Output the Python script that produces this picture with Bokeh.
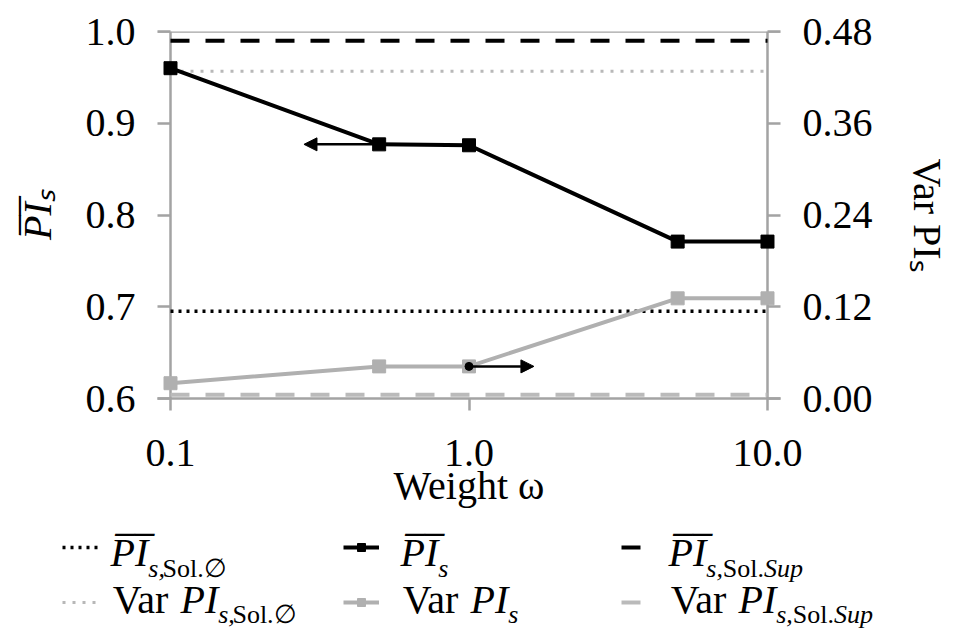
import math
from bokeh.plotting import figure
from bokeh.layouts import column, row
from bokeh.models import (Range1d, LinearAxis, FixedTicker, PrintfTickFormatter, Span, Label,
                          Arrow, NormalHead, Legend, LegendItem, ColumnDataSource)
from bokeh.embed import file_html
from bokeh.resources import INLINE

# ---------------- data ----------------
weights = [0.1, 0.5, 1.0, 5.0, 10.0]
pi_mean = [0.960, 0.877, 0.876, 0.771, 0.771]          # left axis
pi_var = [0.020, 0.042, 0.042, 0.131, 0.131]           # right axis
pi_mean_sol_empty = 0.695
pi_mean_sol_sup = 0.990
pi_var_sol_empty = 0.428
pi_var_sol_sup = 0.005
left_ticks = [0.6, 0.7, 0.8, 0.9, 1.0]
right_ticks = [0.0, 0.12, 0.24, 0.36, 0.48]
x_ticks = [0.1, 1.0, 10.0]
arrow_starts = [0.5, 1.0]     # weight where each axis-hint arrow starts
arrow_ends = [0.28, 1.65]     # weight where each arrow points to

# ---------------- layout constants (canvas px) ----------------
W, H = 961, 632
MAIN_H = 512
FL, FR, FT, FB = 157, 780, 31, 398   # frame edges
PAD = 1.1055                         # log-range padding so axis lines sit inside frame
FONT = "Liberation Serif"
AX = "#a3a3a3"
INK = "#000000"
GRAY = "#b0b0b0"

STY = dict(
    mean_empty=dict(line_color=INK, line_width=3.5, line_dash="3 5"),
    mean_sup=dict(line_color=INK, line_width=4, line_dash="19 16"),
    var_empty=dict(line_color="#b8b8b8", line_width=3, line_dash="3 7"),
    var_sup=dict(line_color="#bababa", line_width=4, line_dash="19 16"),
    var_line=dict(line_color=GRAY, line_width=4),
    var_pts=dict(marker="square", size=13, fill_color=GRAY, line_color=GRAY),
    mean_line=dict(line_color=INK, line_width=4),
    mean_pts=dict(marker="square", size=13, fill_color=INK, line_color=INK),
)

p = figure(width=W, height=MAIN_H, x_axis_type="log", title=None,
           x_range=Range1d(weights[0] / PAD, weights[-1] * PAD),
           y_range=Range1d(left_ticks[0], left_ticks[-1]),
           output_backend="svg", toolbar_location=None,
           min_border_left=FL, min_border_right=W - FR,
           min_border_top=FT, min_border_bottom=MAIN_H - FB)
p.extra_y_ranges = {"var": Range1d(right_ticks[0], right_ticks[-1])}
p.outline_line_color = None
p.xgrid.visible = False
p.ygrid.visible = False

def style_axis(ax, fmt, ticks, tin, tout, standoff):
    ax.ticker = FixedTicker(ticks=ticks)
    ax.formatter = PrintfTickFormatter(format=fmt)
    ax.major_tick_in = tin
    ax.major_tick_out = tout
    ax.major_tick_line_color = AX
    ax.major_tick_line_width = 2.5
    ax.minor_tick_line_color = None
    ax.major_label_text_font = FONT
    ax.major_label_text_font_size = "40px"
    ax.major_label_text_color = INK
    ax.major_label_standoff = standoff
    ax.axis_label_text_font = FONT
    ax.axis_label_text_font_size = "40px"
    ax.axis_label_text_color = INK

xa = p.xaxis[0]
style_axis(xa, "%.1f", x_ticks, 0, 12, 29)
xa.axis_line_color = AX
xa.axis_line_width = 2.5
xa.axis_label = "Weight \u03c9"
xa.axis_label_text_font_style = "normal"
xa.axis_label_standoff = -6

ya = p.yaxis[0]
style_axis(ya, "%.1f", left_ticks, 13, 0, 22)
ya.axis_line_color = None
ya.axis_label = "P\u0305I\u0305\u209b"
ya.axis_label_text_font_style = "italic"
ya.axis_label_standoff = 23

ra = LinearAxis(y_range_name="var")
style_axis(ra, "%.2f", right_ticks, 13, 0, 22)
ra.axis_line_color = None
ra.axis_label = "Var PI\u209b"
ra.axis_label_text_font_style = "normal"
ra.axis_label_standoff = 29
p.add_layout(ra, "right")

# axis frame lines (at the data ends and the top of the range)
for loc in (weights[0], weights[-1]):
    p.add_layout(Span(location=loc, dimension="height", line_color=AX, line_width=2.5, level="underlay"))
p.add_layout(Span(location=left_ticks[-1], dimension="width", line_color=AX, line_width=2.5, level="underlay"))

# ---------------- glyphs ----------------
src = ColumnDataSource(dict(w=weights, m=pi_mean, v=pi_var))
xs_ref = [weights[0], weights[-1]]

p.line(xs_ref, [pi_mean_sol_empty] * 2, **STY["mean_empty"])
p.line(xs_ref, [pi_mean_sol_sup] * 2, **STY["mean_sup"])
p.line(xs_ref, [pi_var_sol_empty] * 2, y_range_name="var", **STY["var_empty"])
p.line(xs_ref, [pi_var_sol_sup] * 2, y_range_name="var", **STY["var_sup"])
p.line("w", "v", source=src, y_range_name="var", **STY["var_line"])
p.scatter("w", "v", source=src, y_range_name="var", **STY["var_pts"])
p.line("w", "m", source=src, **STY["mean_line"])
p.scatter("w", "m", source=src, **STY["mean_pts"])

# axis-hint arrows
for xs, xe, series, rng in ((arrow_starts[0], arrow_ends[0], pi_mean, "default"),
                            (arrow_starts[1], arrow_ends[1], pi_var, "var")):
    yv = series[weights.index(xs)]
    p.add_layout(Arrow(end=NormalHead(size=13, fill_color=INK, line_color=INK),
                       x_start=xs, y_start=yv, x_end=xe, y_end=yv, y_range_name=rng,
                       line_color=INK, line_width=2.5))
    p.scatter([xs], [yv], y_range_name=rng, size=8, color=INK)

# ---------------- legend panel (data units == px, origin bottom-left) ----------------
BOT_H = H - MAIN_H
bottom = figure(width=W, height=BOT_H, title=None, x_range=Range1d(0, W), y_range=Range1d(0, BOT_H),
                output_backend="svg", toolbar_location=None,
                x_axis_location=None, y_axis_location=None,
                min_border=0, min_border_left=0, min_border_right=0,
                min_border_top=0, min_border_bottom=0)
bottom.outline_line_color = None
bottom.xgrid.visible = False
bottom.ygrid.visible = False

ROMAN = {' ': 250, ',': 250, '.': 250, 'S': 556, 'V': 722, 'a': 444, 'l': 278, 'o': 500,
         'r': 333, 'p': 500, 'u': 500, 's': 389, '\u2205': 700}
ITAL = {'P': 611, 'I': 333, 's': 389, ',': 250, 'S': 500, 'u': 500, 'p': 500, ' ': 250}
ASC, DESC = 0.891, 0.216      # Liberation Serif font box

def text_width(text, size, italic):
    table = ITAL if italic else ROMAN
    return sum(table.get(c, 0) for c in text if c != '\u0305') * size / 1000.0

def runs(X, Y, parts):
    """parts: (text, size px, italic, drop px). X, Y: start of baseline, canvas px."""
    adv = 0.0
    for text, size, italic, drop in parts:
        w = text_width(text, size, italic)
        if text.strip():
            px = X + adv + w / 2
            py = Y + drop - (ASC - DESC) / 2 * size
            bottom.add_layout(Label(x=px, y=H - py, text=text, text_font=FONT,
                                    text_font_size=f"{size}px",
                                    text_font_style="italic" if italic else "normal",
                                    text_color=INK, text_align="center", text_baseline="middle"))
        adv += w

NAN = [float("nan")]

def legend_sample(style_keys, x0, w, yc):
    rs = []
    for k in style_keys:
        st = dict(STY[k])
        if "marker" in st:
            rs.append(bottom.scatter(x=NAN, y=NAN, **st))
        else:
            rs.append(bottom.line(x=NAN, y=NAN, **st))
    bottom.add_layout(Legend(items=[LegendItem(label=" ", renderers=rs)],
                             location=(x0, H - yc - 10), glyph_width=w, glyph_height=20,
                             label_text_font_size="1px", label_standoff=0, label_width=0,
                             label_height=0, padding=0, margin=0, spacing=0,
                             border_line_color=None, background_fill_alpha=0))

PI_BAR = "P\u0305I\u0305"
SUB = 26
ROW1, ROW2 = 547, 602
B1, B2 = 565, 612

legend_sample(["mean_empty"], 62, 36, ROW1)
legend_sample(["mean_line", "mean_pts"], 343, 36, ROW1)
legend_sample(["mean_sup"], 621, 22, ROW1)
legend_sample(["var_empty"], 62, 36, ROW2)
legend_sample(["var_line", "var_pts"], 343, 36, ROW2)
legend_sample(["var_sup"], 621, 22, ROW2)

runs(110, B1, [(PI_BAR, 40, True, 0), ("s,", SUB, True, 12), ("Sol.\u2205", SUB, False, 12)])
runs(400, B1, [(PI_BAR, 40, True, 0), ("s", SUB, True, 12)])
runs(668, B1, [(PI_BAR, 40, True, 0), ("s,", SUB, True, 12), ("Sol.", SUB, False, 12),
               ("Sup", SUB, True, 12)])
runs(110, B2, [("Var", 40, False, 0), (" ", 40, False, 0), ("PI", 40, True, 0),
               ("s,", SUB, True, 11), ("Sol.\u2205", SUB, False, 11)])
runs(400, B2, [("Var", 40, False, 0), (" ", 40, False, 0), ("PI", 40, True, 0),
               ("s", SUB, True, 11)])
runs(668, B2, [("Var", 40, False, 0), (" ", 40, False, 0), ("PI", 40, True, 0),
               ("s,", SUB, True, 11), ("Sol.", SUB, False, 11), ("Sup", SUB, True, 11)])

# wrapping the chart in a row keeps Bokeh from aligning the two figures' frames
layout = column(row(p), bottom)
open("out.html", "w").write(file_html(layout, INLINE))
